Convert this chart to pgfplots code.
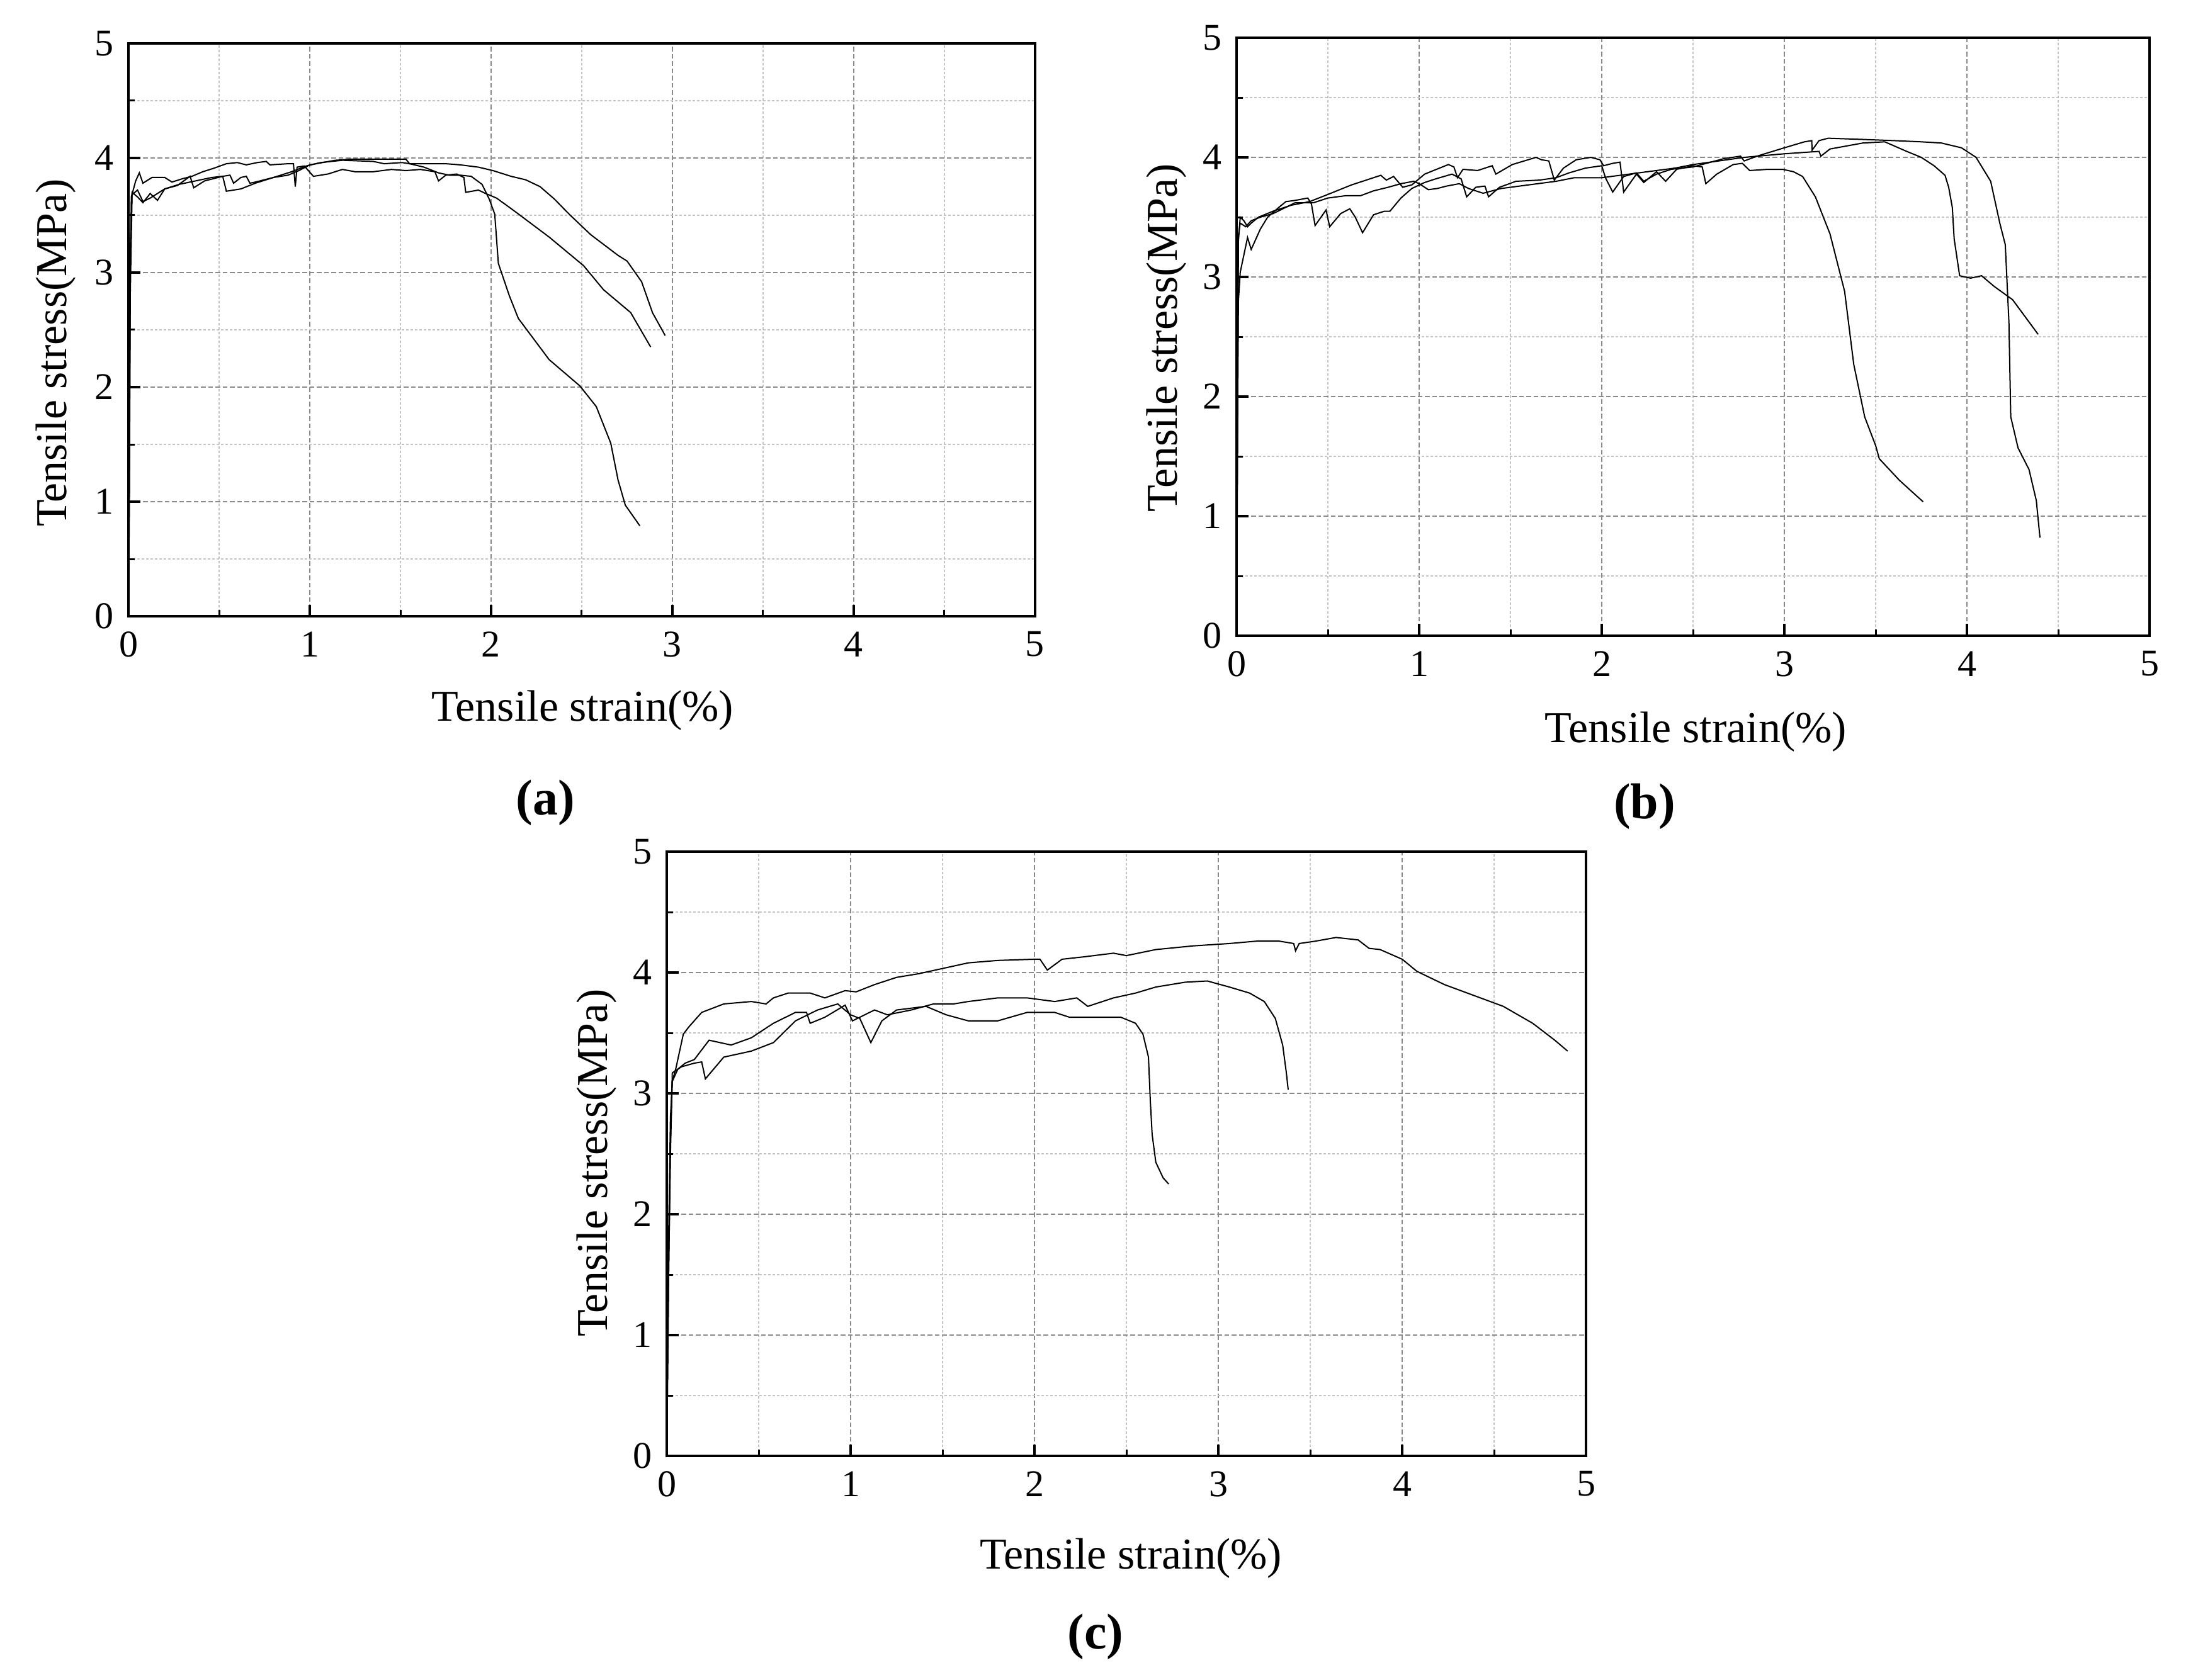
\documentclass[border=0pt]{standalone}
\usepackage{fontspec}
\setmainfont{Liberation Serif}
\usepackage{pgfplots}
\pgfplotsset{compat=1.18}
\definecolor{gridmajor}{HTML}{8A8A8A}
\definecolor{gridminor}{HTML}{C4C4C4}
\pgfplotsset{
  panel/.style={
    scale only axis,
    xmin=0, xmax=5, ymin=0, ymax=5,
    xtick={0,1,2,3,4,5}, ytick={0,1,2,3,4,5},
    minor x tick num=1, minor y tick num=1,
    grid=both,
    major grid style={line width=0.3pt, color=gridmajor, dash pattern=on 1.5pt off 0.8pt},
    minor grid style={line width=0.3pt, color=gridminor, dash pattern=on 0.8pt off 0.6pt},
    tick align=inside, xtick pos=left, ytick pos=left,
    major tick length=3.7pt, minor tick length=2pt,
    every major tick/.append style={line width=0.8pt, black},
    every minor tick/.append style={line width=0.6pt, black},
    axis line style={line width=0.8pt},
    /pgf/number format/assume math mode=true,
    tick label style={font=\fontsize{12}{12}\selectfont},
    xticklabel style={yshift=-1.4pt},
    yticklabel style={xshift=-1.2pt},
    label style={font=\fontsize{14}{14}\selectfont},
    xlabel={Tensile strain(\%)},
    ylabel={Tensile stress(MPa)},
    cycle list={{black, line width=0.4pt, mark=none}},
  }
}
\begin{document}
\begin{tikzpicture}
\path[use as bounding box] (0,0) rectangle (698.2pt,533.6pt);

% ---------------- (a)
\begin{axis}[panel, at={(40.8pt,337.8pt)}, anchor=south west, width=288pt, height=182pt,
  xlabel style={at={(axis description cs:0.501,-0.165)}, anchor=center},
  ylabel style={at={(axis description cs:-0.080,0.46)}, anchor=center}]
\addplot coordinates {(0,0) (0.005,1.5) (0.01,3.2) (0.02,3.70) (0.05,3.66) (0.08,3.61) (0.12,3.69) (0.16,3.63) (0.2,3.73) (0.27,3.76) (0.34,3.84) (0.36,3.74) (0.42,3.80) (0.52,3.84) (0.54,3.71) (0.62,3.73) (0.70,3.78) (0.80,3.83) (0.88,3.85) (0.94,3.89) (1.0,3.94) (1.14,3.98) (1.23,3.99) (1.35,3.99) (1.53,3.99) (1.55,3.95) (1.59,3.95) (1.67,3.95) (1.75,3.95) (1.83,3.94) (1.93,3.92) (2.01,3.89) (2.11,3.84) (2.19,3.81) (2.27,3.75) (2.35,3.64) (2.43,3.51) (2.55,3.33) (2.70,3.15) (2.75,3.10) (2.83,2.92) (2.89,2.65) (2.96,2.45)};
\addplot coordinates {(0,0) (0.005,1.2) (0.01,3.0) (0.016,3.66) (0.04,3.80) (0.06,3.87) (0.08,3.78) (0.13,3.83) (0.2,3.83) (0.24,3.79) (0.3,3.82) (0.35,3.84) (0.41,3.88) (0.47,3.91) (0.54,3.95) (0.6,3.96) (0.65,3.94) (0.71,3.96) (0.76,3.97) (0.78,3.94) (0.88,3.95) (0.91,3.95) (0.92,3.75) (0.93,3.92) (0.97,3.93) (1.02,3.84) (1.1,3.86) (1.18,3.90) (1.25,3.88) (1.35,3.88) (1.45,3.90) (1.53,3.89) (1.61,3.90) (1.69,3.88) (1.71,3.80) (1.75,3.85) (1.81,3.86) (1.85,3.83) (1.86,3.70) (1.93,3.72) (1.97,3.69) (2.03,3.65) (2.10,3.57) (2.16,3.50) (2.32,3.31) (2.51,3.06) (2.62,2.85) (2.77,2.65) (2.88,2.35)};
\addplot coordinates {(0,0) (0.005,1.0) (0.01,2.8) (0.02,3.68) (0.05,3.72) (0.08,3.62) (0.12,3.65) (0.2,3.73) (0.28,3.77) (0.34,3.79) (0.40,3.81) (0.46,3.83) (0.52,3.84) (0.56,3.85) (0.58,3.78) (0.62,3.83) (0.65,3.84) (0.67,3.78) (0.70,3.79) (0.8,3.83) (0.9,3.88) (0.98,3.93) (1.06,3.96) (1.18,3.98) (1.35,3.97) (1.41,3.95) (1.51,3.96) (1.55,3.95) (1.63,3.92) (1.71,3.87) (1.77,3.85) (1.83,3.85) (1.89,3.84) (1.95,3.77) (1.99,3.64) (2.02,3.51) (2.04,3.08) (2.10,2.80) (2.15,2.60) (2.32,2.24) (2.49,2.01) (2.58,1.83) (2.66,1.51) (2.70,1.19) (2.74,0.97) (2.82,0.79)};
\end{axis}

% ---------------- (b)
\begin{axis}[panel, at={(392.8pt,331.6pt)}, anchor=south west, width=290pt, height=190pt,
  xlabel style={at={(axis description cs:0.503,-0.161)}, anchor=center},
  ylabel style={at={(axis description cs:-0.077,0.498)}, anchor=center}]
\addplot coordinates {(0,0) (0.005,1.5) (0.01,3.3) (0.02,3.5) (0.04,3.47) (0.06,3.42) (0.08,3.45) (0.12,3.5) (0.2,3.55) (0.3,3.6) (0.4,3.63) (0.5,3.69) (0.63,3.77) (0.79,3.85) (0.82,3.81) (0.86,3.84) (0.91,3.75) (0.96,3.77) (1.03,3.86) (1.16,3.94) (1.19,3.92) (1.21,3.83) (1.24,3.90) (1.32,3.89) (1.40,3.93) (1.42,3.86) (1.51,3.94) (1.64,4.00) (1.67,3.98) (1.71,3.97) (1.74,3.81) (1.79,3.91) (1.86,3.98) (1.94,4.00) (1.99,3.98) (2.01,3.93) (2.06,3.95) (2.10,3.96) (2.12,3.71) (2.19,3.86) (2.23,3.79) (2.30,3.88) (2.35,3.80) (2.41,3.90) (2.50,3.93) (2.55,3.92) (2.57,3.78) (2.63,3.86) (2.72,3.94) (2.77,3.95) (2.81,3.89) (2.91,3.90) (2.99,3.90) (3.05,3.88) (3.10,3.84) (3.17,3.67) (3.25,3.36) (3.33,2.88) (3.38,2.27) (3.44,1.83) (3.50,1.59) (3.52,1.48) (3.63,1.30) (3.76,1.12)};
\addplot coordinates {(0,0) (0.005,1.8) (0.01,2.8) (0.02,3.04) (0.06,3.33) (0.08,3.23) (0.13,3.40) (0.17,3.50) (0.23,3.58) (0.27,3.63) (0.32,3.64) (0.39,3.66) (0.41,3.61) (0.43,3.43) (0.49,3.56) (0.51,3.42) (0.57,3.53) (0.62,3.57) (0.65,3.50) (0.69,3.37) (0.75,3.52) (0.81,3.55) (0.84,3.55) (0.90,3.66) (0.96,3.74) (1.03,3.79) (1.09,3.82) (1.18,3.86) (1.23,3.82) (1.26,3.67) (1.31,3.75) (1.36,3.76) (1.38,3.67) (1.44,3.75) (1.53,3.80) (1.66,3.81) (1.75,3.83) (1.82,3.87) (1.91,3.91) (2.0,3.93) (2.02,3.83) (2.06,3.71) (2.12,3.84) (2.19,3.87) (2.23,3.80) (2.30,3.86) (2.38,3.90) (2.50,3.92) (2.67,3.99) (2.76,4.01) (2.78,3.97) (2.85,4.01) (3.0,4.08) (3.11,4.13) (3.15,4.14) (3.152,4.06) (3.19,4.14) (3.24,4.16) (3.43,4.15) (3.6,4.14) (3.75,4.13) (3.86,4.12) (3.97,4.08) (4.05,4.0) (4.13,3.80) (4.18,3.45) (4.21,3.27) (4.23,2.62) (4.24,1.83) (4.28,1.57) (4.34,1.39) (4.38,1.13) (4.40,0.82)};
\addplot coordinates {(0,0) (0.005,2.0) (0.01,3.35) (0.02,3.45) (0.05,3.42) (0.08,3.47) (0.13,3.50) (0.2,3.53) (0.32,3.62) (0.42,3.62) (0.5,3.66) (0.6,3.68) (0.68,3.68) (0.75,3.72) (0.83,3.75) (0.9,3.78) (0.97,3.80) (1.0,3.78) (1.05,3.73) (1.1,3.74) (1.15,3.76) (1.22,3.78) (1.27,3.74) (1.35,3.70) (1.45,3.74) (1.55,3.76) (1.65,3.78) (1.75,3.80) (1.85,3.83) (2.0,3.83) (2.1,3.85) (2.2,3.87) (2.3,3.89) (2.4,3.91) (2.5,3.94) (2.78,4.0) (3.0,4.03) (3.19,4.05) (3.20,4.01) (3.25,4.07) (3.43,4.12) (3.55,4.13) (3.67,4.05) (3.75,4.0) (3.82,3.93) (3.88,3.85) (3.90,3.75) (3.92,3.58) (3.93,3.32) (3.96,3.01) (4.02,2.99) (4.08,3.01) (4.15,2.92) (4.25,2.81) (4.39,2.52)};
\end{axis}

% ---------------- (c)
\begin{axis}[panel, at={(211.8pt,71.0pt)}, anchor=south west, width=292pt, height=192pt,
  xlabel style={at={(axis description cs:0.505,-0.169)}, anchor=center},
  ylabel style={at={(axis description cs:-0.076,0.485)}, anchor=center}]
\addplot coordinates {(0,0) (0.01,1.5) (0.02,2.6) (0.03,3.1) (0.05,3.21) (0.07,3.35) (0.09,3.49) (0.12,3.55) (0.19,3.67) (0.31,3.74) (0.46,3.76) (0.54,3.74) (0.58,3.79) (0.66,3.83) (0.78,3.83) (0.86,3.79) (0.97,3.85) (1.03,3.84) (1.13,3.90) (1.25,3.96) (1.37,3.99) (1.52,4.04) (1.64,4.08) (1.80,4.10) (2.0,4.11) (2.03,4.11) (2.07,4.02) (2.15,4.11) (2.27,4.13) (2.43,4.16) (2.50,4.14) (2.66,4.19) (2.86,4.22) (3.06,4.24) (3.21,4.26) (3.33,4.26) (3.41,4.24) (3.42,4.18) (3.44,4.24) (3.53,4.26) (3.64,4.29) (3.76,4.27) (3.82,4.20) (3.88,4.19) (4.0,4.11) (4.08,4.01) (4.23,3.90) (4.39,3.81) (4.55,3.72) (4.71,3.58) (4.83,3.44) (4.90,3.35)};
\addplot coordinates {(0,0) (0.01,1.8) (0.02,2.8) (0.03,3.1) (0.06,3.2) (0.1,3.25) (0.15,3.28) (0.23,3.44) (0.35,3.40) (0.46,3.46) (0.58,3.58) (0.70,3.67) (0.76,3.67) (0.78,3.58) (0.86,3.63) (0.97,3.73) (1.01,3.60) (1.13,3.69) (1.2,3.65) (1.33,3.69) (1.45,3.74) (1.56,3.74) (1.64,3.76) (1.80,3.79) (1.96,3.79) (2.11,3.76) (2.23,3.79) (2.29,3.72) (2.43,3.79) (2.55,3.83) (2.66,3.88) (2.82,3.92) (2.94,3.93) (3.06,3.88) (3.17,3.83) (3.25,3.76) (3.31,3.62) (3.35,3.40) (3.37,3.17) (3.38,3.03)};
\addplot coordinates {(0,0) (0.01,1.5) (0.02,2.5) (0.03,3.17) (0.08,3.22) (0.15,3.25) (0.19,3.26) (0.21,3.12) (0.31,3.30) (0.46,3.35) (0.58,3.42) (0.70,3.60) (0.82,3.69) (0.93,3.74) (1.0,3.65) (1.05,3.62) (1.11,3.42) (1.17,3.60) (1.25,3.69) (1.41,3.72) (1.52,3.65) (1.64,3.60) (1.80,3.60) (1.96,3.67) (2.11,3.67) (2.19,3.63) (2.35,3.63) (2.47,3.63) (2.55,3.58) (2.59,3.49) (2.62,3.30) (2.63,2.94) (2.64,2.66) (2.66,2.43) (2.70,2.30) (2.73,2.25)};
\end{axis}

\node[font=\fontsize{16}{16}\selectfont\bfseries] at (173.2pt,278.6pt) {(a)};
\node[font=\fontsize{16}{16}\selectfont\bfseries] at (522.4pt,277.4pt) {(b)};
\node[font=\fontsize{16}{16}\selectfont\bfseries] at (348.0pt,13.6pt) {(c)};
\end{tikzpicture}
\end{document}
